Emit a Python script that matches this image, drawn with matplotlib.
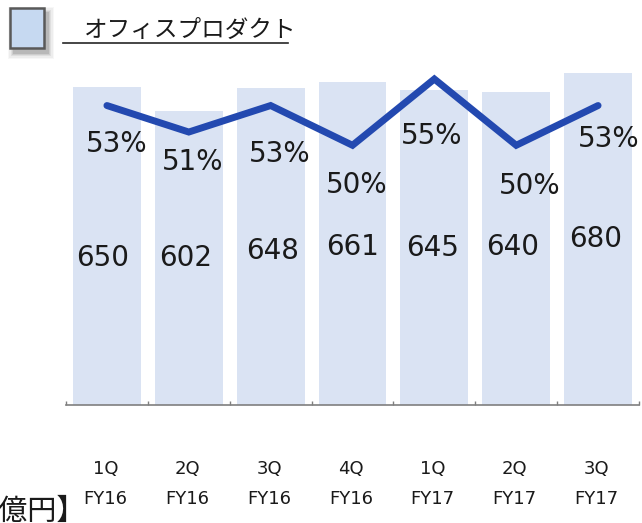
import matplotlib
matplotlib.use("Agg")
import matplotlib.pyplot as plt
from matplotlib.patches import Rectangle
from matplotlib.lines import Line2D
from matplotlib.transforms import blended_transform_factory, offset_copy

# ---- data -------------------------------------------------------------
quarters = ["1Q", "2Q", "3Q", "4Q", "1Q", "2Q", "3Q"]
fiscal_years = ["FY16", "FY16", "FY16", "FY16", "FY17", "FY17", "FY17"]
sales = [650, 602, 648, 661, 645, 640, 680]          # 億円
ratio = [53, 51, 53, 50, 55, 50, 53]                 # %
title = "オフィスプロダクト"
unit_text = "【億円】"

# ---- layout (pixel offsets for the labels) ----------------------------
ratio_label_offsets = [(10, 36), (4, 28), (9, 46), (4, 38), (-3, 55), (13, 39), (11, 31)]
value_label_offsets = [(-4, 10), (-3, -2), (2, 2), (0, 1), (-2, -1), (-4, -4), (-2, -2)]

W, H, DPI = 642, 523, 100
BAR_COLOR = "#DAE3F3"
LINE_COLOR = "#2349B0"
TEXT_COLOR = "#1a1a1a"

fig = plt.figure(figsize=(W / DPI, H / DPI), dpi=DPI)
fig.patch.set_facecolor("white")

# axes: x 66..639 px, y 63..405 px (from top)
ax = fig.add_axes([66 / W, 1 - 405 / H, 573 / W, 342 / H])
ax.set_facecolor("none")
x = list(range(len(sales)))

ax.bar(x, sales, width=0.83, color=BAR_COLOR, zorder=1)
ax.set_xlim(-0.5, len(sales) - 0.5)
ax.set_ylim(0, 700)

for side in ("top", "right", "left"):
    ax.spines[side].set_visible(False)
ax.spines["bottom"].set_color("#7f7f7f")
ax.spines["bottom"].set_linewidth(1.2)
ax.set_yticks([])
ax.set_xticks(x)
ax.set_xticklabels([])
ax.tick_params(axis="x", which="major", length=0)
ax.set_xticks([i - 0.5 for i in range(len(sales) + 1)], minor=True)
ax.tick_params(axis="x", which="minor", direction="in", length=3,
               color="#7f7f7f", width=1)

# bar value labels around bar mid-height
for xi, v, (dx, dy) in zip(x, sales, value_label_offsets):
    t = offset_copy(ax.transData, fig=fig, x=dx, y=-(dy + 10), units="dots")
    ax.text(xi, v / 2, f"{v}", transform=t, ha="center", va="baseline",
            fontsize=20, color=TEXT_COLOR, family="DejaVu Sans", zorder=3)

# ratio line on secondary axis
ax2 = ax.twinx()
ax2.set_ylim(30.40, 56.21)
ax2.axis("off")
ax2.plot(x, ratio, color=LINE_COLOR, linewidth=5, solid_capstyle="round",
         solid_joinstyle="miter", zorder=4)
for xi, v, (dx, dy) in zip(x, ratio, ratio_label_offsets):
    t = offset_copy(ax2.transData, fig=fig, x=dx, y=-(dy + 10), units="dots")
    ax2.text(xi, v, f"{v}%", transform=t, ha="center", va="baseline",
             fontsize=20, color=TEXT_COLOR, family="DejaVu Sans", zorder=5)

# two-line category labels under the axis
tb = blended_transform_factory(ax.transData, fig.transFigure)
for xi, q, fy in zip(x, quarters, fiscal_years):
    ax.text(xi - 0.02, 1 - 474.5 / H, q, transform=tb, ha="center", va="baseline",
            fontsize=13, color=TEXT_COLOR, family="DejaVu Sans")
    ax.text(xi - 0.02, 1 - 504.5 / H, fy, transform=tb, ha="center", va="baseline",
            fontsize=13, color=TEXT_COLOR, family="DejaVu Sans")

# unit note at the lower left
fig.text(-30 / W, 1 - 520 / H, unit_text, ha="left", va="baseline",
         fontsize=21, color=TEXT_COLOR,
         family=["Noto Sans CJK JP", "DejaVu Sans"])

# header: legend swatch with soft shadow, then underlined title
for k, a in enumerate([0.10, 0.08, 0.06, 0.04, 0.03]):
    grow = k * 1.2
    fig.patches.append(Rectangle(((13 - grow) / W, 1 - (54 + grow) / H),
                                 (36 + 2 * grow) / W, (42 + 2 * grow) / H,
                                 transform=fig.transFigure, facecolor="#000000",
                                 edgecolor="none", alpha=a, zorder=1))
fig.patches.append(Rectangle((9.5 / W, 1 - 47.5 / H), 34.5 / W, 40 / H,
                             transform=fig.transFigure, facecolor="#C6D9F1",
                             edgecolor="#595959", linewidth=1.8, zorder=2))

fig.text(84 / W, 1 - 37 / H, title, ha="left", va="baseline", fontsize=17,
         color=TEXT_COLOR, family=["Noto Sans CJK JP", "DejaVu Sans"])
fig.lines.append(Line2D([63 / W, 288 / W], [1 - 43 / H, 1 - 43 / H],
                        transform=fig.transFigure, color="#262626", linewidth=1.2))

fig.savefig("out.png", dpi=DPI)
